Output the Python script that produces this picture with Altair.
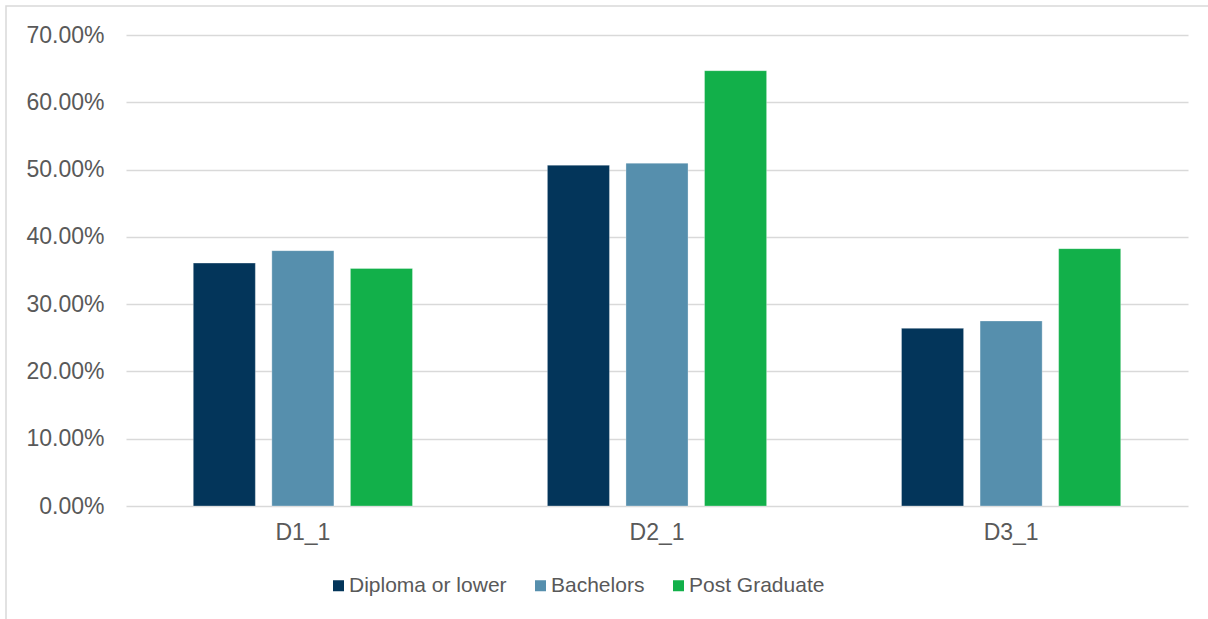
import altair as alt
import pandas as pd

# Share of respondents per item, split by education level
items = ["D1_1", "D2_1", "D3_1"]
levels = ["Diploma or lower", "Bachelors", "Post Graduate"]
diploma = [0.3610, 0.5065, 0.2640]
bachelors = [0.3795, 0.5095, 0.2750]
post_grad = [0.3530, 0.6470, 0.3825]
colors = ["#03355A", "#568FAD", "#12B04A"]
y_ticks = [0.0, 0.1, 0.2, 0.3, 0.4, 0.5, 0.6, 0.7]

rows = []
for level, values in zip(levels, [diploma, bachelors, post_grad]):
    for item, v in zip(items, values):
        rows.append({"item": item, "level": level, "share": v})
df = pd.DataFrame(rows)

FONT = "Liberation Sans"
TEXT = "#595959"
GRID = "#D9D9D9"

bars = alt.Chart(df).mark_bar(stroke="white", strokeWidth=0.6, strokeOpacity=0.5).encode(
    x=alt.X(
        "item:N",
        sort=items,
        title=None,
        scale=alt.Scale(paddingInner=0.381, paddingOuter=0.19),
        axis=alt.Axis(
            labelAngle=0,
            ticks=False,
            domain=False,
            labelFont=FONT,
            labelFontSize=23,
            labelColor=TEXT,
            labelPadding=15,
        ),
    ),
    xOffset=alt.XOffset(
        "level:N",
        sort=levels,
        scale=alt.Scale(paddingInner=0.21, paddingOuter=0),
    ),
    y=alt.Y(
        "share:Q",
        title=None,
        scale=alt.Scale(domain=[0, 0.7], nice=False),
        axis=alt.Axis(
            values=y_ticks,
            format=".2%",
            ticks=False,
            domain=False,
            grid=True,
            gridColor=GRID,
            gridWidth=1.4,
            labelFont=FONT,
            labelFontSize=23,
            labelColor=TEXT,
            labelPadding=22,
        ),
    ),
    color=alt.Color(
        "level:N",
        sort=levels,
        scale=alt.Scale(domain=levels, range=colors),
        legend=alt.Legend(
            title=None,
            orient="none",
            direction="horizontal",
            legendX=202,
            legendY=540,
            symbolType="square",
            symbolSize=121,
            symbolStrokeWidth=0,
            labelFont=FONT,
            labelFontSize=21,
            labelColor=TEXT,
            labelOffset=0,
            columnPadding=23,
        ),
    ),
)

# Thin outer frame of the chart area
frame = alt.Chart(pd.DataFrame({"k": [0]})).mark_rect(
    fill=None, stroke=GRID, strokeWidth=1.5
).encode(
    x=alt.value(-120),
    x2=alt.value(1100),
    y=alt.value(-29),
    y2=alt.value(600),
)

chart = (
    alt.layer(frame, bars)
    .properties(
        width=1062,
        height=471,
        autosize=alt.AutoSizeParams(type="none"),
        padding={"left": 126, "top": 35, "right": 20, "bottom": 113},
        background="white",
    )
    .configure_view(stroke=None)
)

chart.save("out.html", embed_options={"renderer": "svg", "actions": False})
